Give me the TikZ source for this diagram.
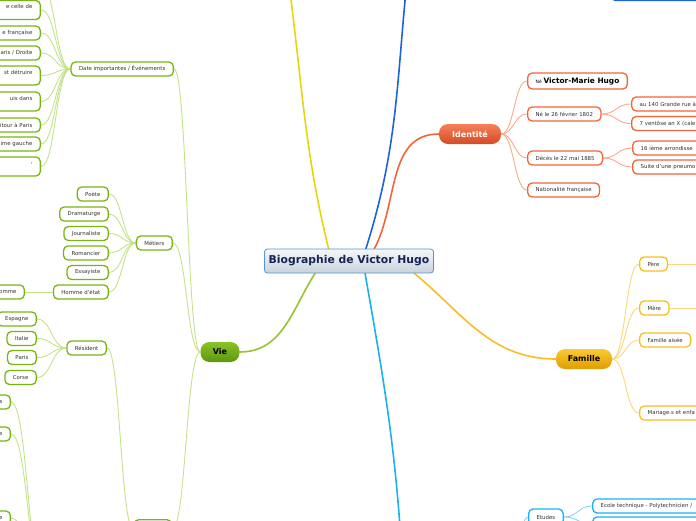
\documentclass[tikz,border=0pt]{standalone}
\usepackage{fontspec}
\setmainfont{DejaVu Sans}
\usetikzlibrary{calc,backgrounds}

\definecolor{vert}{RGB}{122,180,20}
\definecolor{vertlien}{RGB}{196,226,140}
\definecolor{vertbranche}{RGB}{150,195,45}
\definecolor{rouge}{RGB}{242,100,58}
\definecolor{rougelien}{RGB}{248,170,140}
\definecolor{jaune}{RGB}{247,190,35}
\definecolor{jaunelien}{RGB}{252,214,120}
\definecolor{ciel}{RGB}{28,176,240}
\definecolor{ciellien}{RGB}{140,210,244}
\definecolor{bleu}{RGB}{28,100,216}
\definecolor{citron}{RGB}{230,214,10}
\definecolor{marine}{RGB}{22,36,84}
\definecolor{gristexte}{RGB}{51,51,51}
\definecolor{bordcentre}{RGB}{80,150,215}

% lien courbe entre deux ancres (points de controle au milieu)
\newcommand{\lien}[3]{\draw[#1] (#2) .. controls ($(#2)!0.5!(#2-|#3)$) and ($(#3)!0.5!(#3-|#2)$) .. (#3);}

\begin{document}
\begin{tikzpicture}[x=1pt,y=1pt,
  feuille/.style={draw,fill=white,rounded corners=4.5pt,line width=1.3pt,
    font=\fontsize{5.4}{6.6}\selectfont,text=gristexte,
    minimum height=14pt,inner xsep=8pt,inner ysep=2pt},
  principal/.style={rounded corners=9pt,minimum height=20pt,inner xsep=6pt,
    font=\bfseries\fontsize{8}{9}\selectfont},
  coupeD/.style={text width=#1,align=left},
  coupeG/.style={text width=#1,align=right},
  haute/.style={minimum height=19pt},
  branche/.style={line width=1.6pt},
  lienV/.style={draw=vertlien,line width=0.9pt},
  lienR/.style={draw=rougelien,line width=0.9pt},
  lienJ/.style={draw=jaunelien,line width=0.9pt},
  lienC/.style={draw=ciellien,line width=0.9pt}]
\useasboundingbox (0,0) rectangle (696,-520);
\clip (0,0) rectangle (696,-520);

% centre
\node[draw=bordcentre,line width=0.8pt,rounded corners=3pt,
  top color={rgb,255:red,246;green,248;blue,250},bottom color={rgb,255:red,200;green,210;blue,220},
  minimum width=169pt,minimum height=24pt,text=marine,
  font=\bfseries\fontsize{10.8}{12}\selectfont] (bio) at (349,-261) {Biographie de Victor Hugo};

% Identite
\node[principal,top color={rgb,255:red,246;green,128;blue,88},bottom color={rgb,255:red,210;green,76;blue,36},
  text=white,minimum width=62pt] (identite) at (470,-134) {Identité};
\node[feuille,draw=rouge,anchor=west,minimum height=16pt,text=black] (nom) at (527,-81)
  {{\mdseries\fontsize{4.5}{5}\selectfont Né} {\bfseries\fontsize{7.4}{9}\selectfont Victor-Marie Hugo}};
\node[feuille,draw=rouge,anchor=west] (naissance) at (527,-114) {Né le 26 février 1802};
\node[feuille,draw=rouge,anchor=west] (deces) at (527,-158) {Décès le 22 mai 1885};
\node[feuille,draw=rouge,anchor=west] (nationalite) at (527,-190) {Nationalité française};
\node[feuille,draw=rouge,anchor=west,coupeD=80pt] (adresse) at (631,-104) {au 140 Grande rue à};
\node[feuille,draw=rouge,anchor=west,coupeD=80pt] (calendrier) at (631,-123.5) {7 ventôse an X (cale};
\node[feuille,draw=rouge,anchor=west,coupeD=80pt] (arrondissement) at (632,-148) {16 ième arrondisse};
\node[feuille,draw=rouge,anchor=west,coupeD=80pt] (pneumonie) at (632,-167) {Suite d'une pneumo};

% Famille
\node[principal,top color={rgb,255:red,250;green,202;blue,52},bottom color={rgb,255:red,222;green,158;blue,0},
  minimum width=56pt] (famille) at (584,-359) {Famille};
\node[feuille,draw=jaune,anchor=west] (pere) at (639,-264) {Père};
\node[feuille,draw=jaune,anchor=west] (mere) at (639,-308) {Mère};
\node[feuille,draw=jaune,anchor=west] (aisee) at (639,-340) {Famille aisée};
\node[feuille,draw=jaune,anchor=west,coupeD=70pt] (mariage) at (639,-413) {Mariage.s et enfa};
\coordinate (pereSuite) at (710,-264);
\coordinate (mereSuite) at (710,-308);

% Vie
\node[principal,top color={rgb,255:red,136;green,196;blue,40},bottom color={rgb,255:red,94;green,150;blue,14},
  minimum width=39pt] (vie) at (220,-352) {Vie};
\node[feuille,draw=vert,anchor=east] (dates) at (174,-69) {Date importantes / Événements};
\node[feuille,draw=vert,anchor=east,coupeG=60pt,haute] (ev1) at (41,-10) {e celle de\\\mbox{}};
\node[feuille,draw=vert,anchor=east,coupeG=60pt] (ev2) at (41,-33) {e française};
\node[feuille,draw=vert,anchor=east,coupeG=60pt] (ev3) at (41,-53) {aris / Droite};
\node[feuille,draw=vert,anchor=east,coupeG=60pt,haute] (ev4) at (41,-75.5) {st détruire\\\mbox{}};
\node[feuille,draw=vert,anchor=east,coupeG=60pt,haute] (ev5) at (41,-101.5) {uis dans\\\mbox{}};
\node[feuille,draw=vert,anchor=east,coupeG=60pt] (ev6) at (41,-125) {itour à Paris};
\node[feuille,draw=vert,anchor=east,coupeG=60pt] (ev7) at (41,-144) {ime gauche};
\node[feuille,draw=vert,anchor=east,coupeG=60pt,haute] (ev8) at (41,-166.5) {,\\\mbox{}};
\coordinate (evHaut) at (41,14);

\node[feuille,draw=vert,anchor=east] (metiers) at (173,-243) {Métiers};
\node[feuille,draw=vert,anchor=east] (poete) at (109,-194) {Poète};
\node[feuille,draw=vert,anchor=east] (dramaturge) at (109,-214) {Dramaturge};
\node[feuille,draw=vert,anchor=east] (journaliste) at (109,-233.5) {Journaliste};
\node[feuille,draw=vert,anchor=east] (romancier) at (109,-253) {Romancier};
\node[feuille,draw=vert,anchor=east] (essayiste) at (109,-272.5) {Essayiste};
\node[feuille,draw=vert,anchor=east] (homme) at (109,-292) {Homme d'état};
\node[feuille,draw=vert,anchor=east,coupeG=50pt] (hommeSuite) at (25,-292) {omme};

\node[feuille,draw=vert,anchor=north east,minimum width=37pt,minimum height=20pt] (vieBas) at (172,-519) {};
\node[feuille,draw=vert,anchor=east] (resident) at (107,-348) {Résident};
\node[feuille,draw=vert,anchor=east] (espagne) at (37,-319) {Espagne};
\node[feuille,draw=vert,anchor=east] (italie) at (37,-338.5) {Italie};
\node[feuille,draw=vert,anchor=east] (paris) at (37,-357.5) {Paris};
\node[feuille,draw=vert,anchor=east] (corse) at (37,-377.5) {Corse};

\node[feuille,draw=vert,anchor=east,coupeG=40pt] (basA) at (11,-402) {s};
\node[feuille,draw=vert,anchor=east,coupeG=40pt] (basB) at (11,-434) {e};
\node[feuille,draw=vert,anchor=east,coupeG=40pt] (basC) at (11,-518) {e};
\coordinate (basParent) at (45,-585);

% Etudes
\node[feuille,draw=ciel,anchor=west,minimum height=16pt] (etudes) at (528,-517) {Etudes};
\node[feuille,draw=ciel,anchor=west,coupeD=120pt] (ecole) at (592,-506) {Ecole technique - Polytechnicien /};
\node[feuille,draw=ciel,anchor=west,coupeD=110pt] (etudesB) at (592,-524) {};
\coordinate (cielParent) at (510,-575);
\coordinate (cielTronc) at (403,-575);

% branches du haut
\node[feuille,draw=bleu,anchor=south west,coupeD=100pt,minimum height=16pt] (bleuHaut) at (610,-1) {};
\coordinate (jauneTronc) at (287,30);
\coordinate (bleuTronc) at (408,30);

\begin{scope}[on background layer]
  \draw[branche,draw=citron] ($(bio.north)+(-19,-6)$) to[out=104,in=-82] (jauneTronc);
  \draw[branche,draw=bleu] ($(bio.north)+(15,-6)$) to[out=72,in=-96] (bleuTronc);
  \draw[branche,draw=rouge] ($(bio.north)+(22,-6)$) to[out=58,in=180] (identite.west);
  \draw[branche,draw=jaune] ($(bio.south)+(58,6)$) to[out=-38,in=180] (famille.west);
  \draw[branche,draw=ciel] ($(bio.south)+(15,6)$) to[out=-80,in=93] (cielTronc);
  \draw[branche,draw=vertbranche] ($(bio.south)+(-30,6)$) to[out=-125,in=0] (vie.east);

  \lien{lienR}{identite.east}{nom.west}
  \lien{lienR}{identite.east}{naissance.west}
  \lien{lienR}{identite.east}{deces.west}
  \lien{lienR}{identite.east}{nationalite.west}
  \lien{lienR}{naissance.east}{adresse.west}
  \lien{lienR}{naissance.east}{calendrier.west}
  \lien{lienR}{deces.east}{arrondissement.west}
  \lien{lienR}{deces.east}{pneumonie.west}

  \lien{lienJ}{famille.east}{pere.west}
  \lien{lienJ}{famille.east}{mere.west}
  \lien{lienJ}{famille.east}{aisee.west}
  \lien{lienJ}{famille.east}{mariage.west}
  \draw[lienJ] (pere.east) -- (pereSuite);
  \draw[lienJ] (mere.east) -- (mereSuite);

  \lien{lienV}{vie.west}{dates.east}
  \lien{lienV}{vie.west}{metiers.east}
  \lien{lienV}{vie.west}{vieBas.east}
  \lien{lienV}{dates.west}{evHaut}
  \lien{lienV}{dates.west}{ev1.east}
  \lien{lienV}{dates.west}{ev2.east}
  \lien{lienV}{dates.west}{ev3.east}
  \lien{lienV}{dates.west}{ev4.east}
  \lien{lienV}{dates.west}{ev5.east}
  \lien{lienV}{dates.west}{ev6.east}
  \lien{lienV}{dates.west}{ev7.east}
  \lien{lienV}{dates.west}{ev8.east}
  \lien{lienV}{metiers.west}{poete.east}
  \lien{lienV}{metiers.west}{dramaturge.east}
  \lien{lienV}{metiers.west}{journaliste.east}
  \lien{lienV}{metiers.west}{romancier.east}
  \lien{lienV}{metiers.west}{essayiste.east}
  \lien{lienV}{metiers.west}{homme.east}
  \draw[lienV] (homme.west) -- (hommeSuite.east);
  \lien{lienV}{vieBas.west}{resident.east}
  \lien{lienV}{resident.west}{espagne.east}
  \lien{lienV}{resident.west}{italie.east}
  \lien{lienV}{resident.west}{paris.east}
  \lien{lienV}{resident.west}{corse.east}
  \lien{lienV}{basParent}{basA.east}
  \lien{lienV}{basParent}{basB.east}
  \lien{lienV}{basParent}{basC.east}

  \lien{lienC}{cielParent}{etudes.west}
  \lien{lienC}{etudes.east}{ecole.west}
  \lien{lienC}{etudes.east}{etudesB.west}
\end{scope}
\end{tikzpicture}
\end{document}
